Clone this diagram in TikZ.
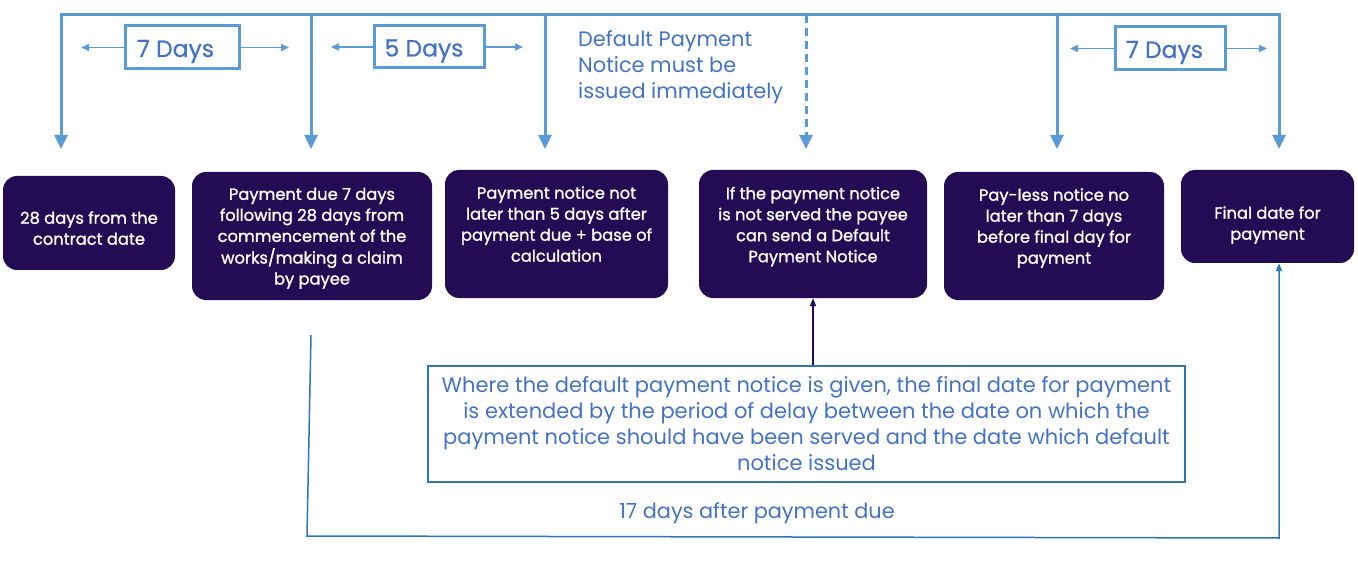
\documentclass[tikz,border=0pt]{standalone}
\usepackage{fontspec}
\setmainfont{Poppins}
\newfontfamily\boxfont{Poppins}[FakeBold=1.2]
\newfontfamily\daysfont{Poppins}[FakeBold=0.8]
\usetikzlibrary{arrows.meta}
\definecolor{lineblue}{RGB}{91,155,213}
\definecolor{textblue}{RGB}{68,114,196}
\definecolor{boxpurple}{RGB}{36,12,84}
\definecolor{bracketblue}{RGB}{46,117,182}
% text block shifted up by #1 without changing the node size
\newcommand{\stagetext}[2]{\raisebox{#1}[\height][\depth]{\begin{tabular}{@{}c@{}}#2\end{tabular}}}
% days label shifted left by #1
\newcommand{\daystext}[2]{\raisebox{-4pt}[\height][\depth]{\makebox[0pt]{\hspace*{-#1}#2}}}
\tikzset{
  stage/.style={fill=boxpurple, rounded corners=14pt, text=white,
    font=\boxfont\fontsize{16.3}{21}\selectfont, inner sep=0pt},
  daysbox/.style={draw=lineblue, line width=3pt, text=textblue, inner sep=0pt,
    font=\daysfont\fontsize{23.5}{24}\selectfont},
  mainline/.style={draw=lineblue, line width=3pt},
  bigarrow/.style={mainline, -{Triangle[width=13pt,length=14pt]}},
  sidearrow/.style={draw=lineblue, line width=1.6pt, -{Triangle[width=7pt,length=8pt]}},
  notetext/.style={text=textblue, align=left, font=\fontsize{20.9}{26}\selectfont, inner sep=0pt},
}
\begin{document}
\begin{tikzpicture}[x=1pt,y=-1pt]
\useasboundingbox (0,0) rectangle (1358,564);
% stage boxes
\node[stage, minimum width=172pt, minimum height=94pt] (s1) at (89,223) {\stagetext{-7pt}{28 days from the\\contract date}};
\node[stage, minimum width=240pt, minimum height=128pt] (s2) at (312,236) {\stagetext{-2pt}{Payment due 7 days\\following 28 days from\\commencement of the\\works/making a claim\\by payee}};
\node[stage, minimum width=223pt, minimum height=128pt] (s3) at (556.5,234) {\stagetext{8pt}{Payment notice not\\later than 5 days after\\payment due + base of\\calculation}};
\node[stage, minimum width=228pt, minimum height=128pt] (s4) at (813,234) {\stagetext{7.5pt}{If the payment notice\\is not served the payee\\can send a Default\\Payment Notice}};
\node[stage, minimum width=220pt, minimum height=128pt] (s5) at (1054,236) {\stagetext{8pt}{Pay-less notice no\\later than 7 days\\before final day for\\payment}};
\node[stage, minimum width=173pt, minimum height=93pt] (s6) at (1267.5,216.5) {\stagetext{-8.5pt}{Final date for\\payment}};
% top timeline
\coordinate (t1) at (61,15);
\coordinate (t2) at (311,15);
\coordinate (t3) at (545,15);
\coordinate (t4) at (806,15);
\coordinate (t5) at (1057,15);
\coordinate (t6) at (1279,15);
\coordinate (a1) at (61,149);
\coordinate (a2) at (311,149);
\coordinate (a3) at (545,149);
\coordinate (a4) at (806,149);
\coordinate (a5) at (1057,149);
\coordinate (a6) at (1279,149);
\draw[mainline] ([xshift=-1.5pt]t1) -- ([xshift=1.5pt]t6);
\draw[bigarrow] (t1) -- (a1);
\draw[bigarrow] (t2) -- (a2);
\draw[bigarrow] (t3) -- (a3);
\draw[bigarrow, dashed, dash pattern=on 8pt off 5pt] (t4) -- (a4);
\draw[bigarrow] (t5) -- (a5);
\draw[bigarrow] (t6) -- (a6);
% day boxes
\node[daysbox, minimum width=114pt, minimum height=43pt] (d1) at (182.5,47.5) {\daystext{14pt}{7 Days}};
\node[daysbox, minimum width=110pt, minimum height=42pt] (d2) at (429.5,47) {\daystext{11pt}{5 Days}};
\node[daysbox, minimum width=110pt, minimum height=43pt] (d3) at (1170.5,48.5) {\daystext{12pt}{7 Days}};
\coordinate (d1l) at (81,47.5); \coordinate (d1r) at (289,47.5);
\coordinate (d2l) at (331,47); \coordinate (d2r) at (523,47);
\coordinate (d3l) at (1070,48.5); \coordinate (d3r) at (1267,48.5);
\draw[sidearrow] (d1.west) -- (d1l);
\draw[sidearrow] (d1.east) -- (d1r);
\draw[sidearrow] (d2.west) -- (d2l);
\draw[sidearrow] (d2.east) -- (d2r);
\draw[sidearrow] (d3.west) -- (d3l);
\draw[sidearrow] (d3.east) -- (d3r);
% default payment note
\node[notetext, anchor=north west] (dn) at (578,30) {Default Payment\\Notice must be\\issued immediately};
% big note box
\node[draw=bracketblue, line width=1.3pt, text=textblue, align=center,
  font=\fontsize{21}{26}\selectfont, minimum width=757pt, minimum height=116pt, inner sep=0pt]
  (nb) at (806.5,424) {Where the default payment notice is given, the final date for payment\\is extended by the period of delay between the date on which the\\payment notice should have been served and the date which default\\notice issued};
\draw[draw=boxpurple, line width=1.6pt, -{Triangle[width=6pt,length=8pt]}] (nb.north -| s4) -- (s4.south);
% bottom bracket
\coordinate (b0) at (311,335);
\coordinate (b1) at (307,536);
\coordinate (b2) at (1279,538);
\draw[draw=bracketblue, line width=1.5pt, -{Triangle[width=6pt,length=8pt]}] (b0) -- (b1) -- (b2) -- (b2 |- s6.south);
\node[text=textblue, font=\fontsize{20.8}{24}\selectfont, inner sep=0pt] (ld) at (757,513) {17 days after payment due};
\end{tikzpicture}
\end{document}
